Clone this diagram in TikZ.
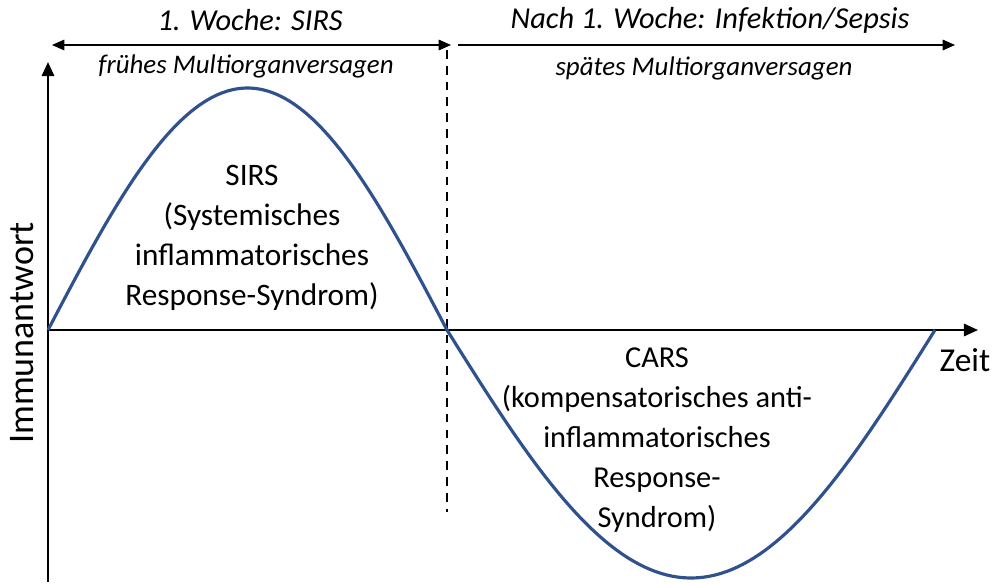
\documentclass[tikz,border=0pt]{standalone}
\usepackage{fontspec}
\setmainfont{Carlito}
\usetikzlibrary{arrows.meta}
\definecolor{curveblue}{RGB}{47,82,143}

\begin{document}
\begin{tikzpicture}[x=0.02cm,y=-0.02cm,
	axis/.style={line width=1.3pt,-{Triangle[length=8pt,width=7pt]}},
	phase/.style={line width=0.8pt},
	curve/.style={curveblue,line width=1.8pt},
	block/.style={align=center,font=\fontsize{17.8}{22.7}\selectfont},
	headline/.style={font=\fontsize{17.3}{20}\selectfont\itshape},
	subline/.style={font=\fontsize{15.3}{18}\selectfont\itshape}]
	\useasboundingbox (0,0) rectangle (995,585);
	% axes
	\coordinate (o) at (48,330);
	\coordinate (ytop) at (48,62);
	\coordinate (ybot) at (48,582);
	\coordinate (xend) at (978,330);
	\draw[axis] (ybot) -- (ytop);
	\draw[axis] (o) -- (xend);
	\node[rotate=90,font=\fontsize{20.5}{22}\selectfont] (yl) at (22,333) {Immunantwort};
	\node[font=\fontsize{19}{21}\selectfont] (xl) at (965,360) {Zeit};
	% phases
	\coordinate (d1) at (447,50);
	\coordinate (d2) at (447,512);
	\draw[dashed,line width=0.8pt,dash pattern=on 5pt off 4pt] (d1) -- (d2);
	\coordinate (a1) at (52,45);
	\coordinate (a2) at (451,45);
	\coordinate (b1) at (458,45);
	\coordinate (b2) at (955,45);
	\draw[phase,{Triangle[length=7pt,width=6pt]}-{Triangle[length=7pt,width=6pt]}] (a1) -- (a2);
	\draw[phase,-{Triangle[length=7pt,width=6pt]}] (b1) -- (b2);
	\node[headline] (w1) at (250,20) {1. Woche: SIRS};
	\node[subline] (m1) at (246,66) {frühes Multiorganversagen};
	\node[headline] (w2) at (710,20) {Nach 1. Woche: Infektion/Sepsis};
	\node[subline] (m2) at (704,68) {spätes Multiorganversagen};
	% response
	\draw[curve] plot[domain=48:447,samples=90] (\x,{330-242*sin((\x-48)/399*180)});
	\draw[curve] plot[domain=447:935,samples=90] (\x,{330+248*sin((\x-447)/488*180)});
	\node[block] (sirs) at (252,238) {SIRS\\(Systemisches\\inflammatorisches\\Response-Syndrom)};
	\node[block,font=\fontsize{17.3}{22.7}\selectfont] (cars) at (657,440) {CARS\\(kompensatorisches anti-\\inflammatorisches\\Response-\\Syndrom)};
\end{tikzpicture}
\end{document}
